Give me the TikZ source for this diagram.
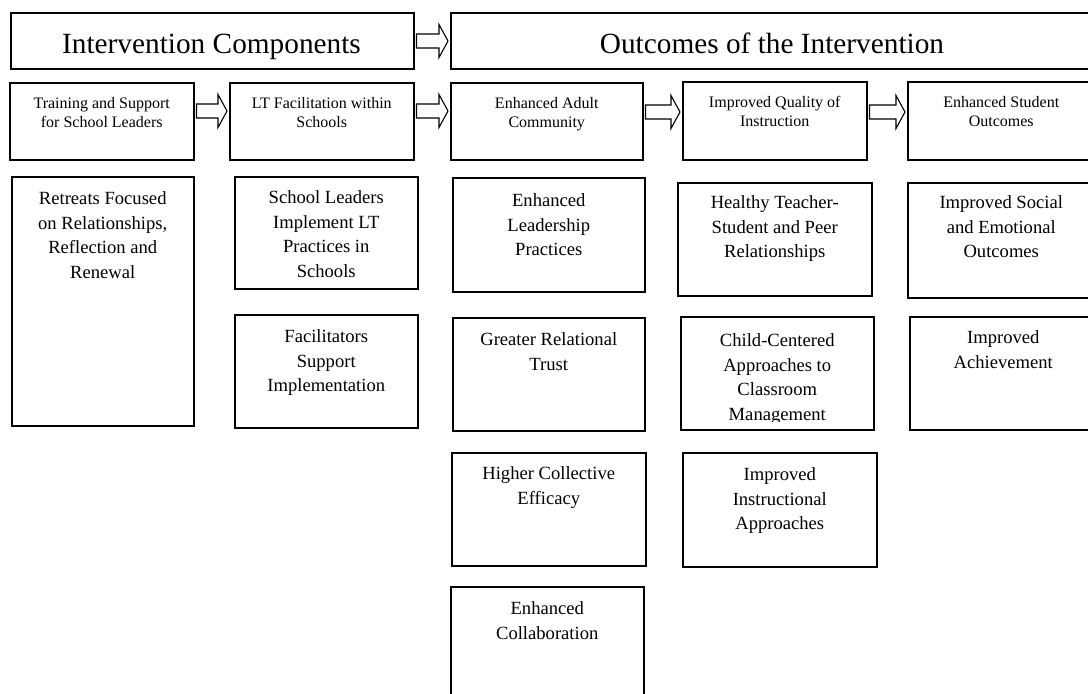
\documentclass[tikz,border=0pt]{standalone}
\usepackage{fontspec}
\setmainfont{Liberation Serif}
\usetikzlibrary{calc}
\tikzset{
  box/.style={draw, line width=1.5pt, inner sep=0pt, anchor=north west},
  txt/.style={inner sep=0pt, align=center, anchor=north},
  ttl/.style={inner sep=0pt, anchor=base, font=\fontsize{29.3}{34}\selectfont},
  arr/.style={draw, line width=1.1pt, fill=white, line join=miter},
}
\newcommand\mkbox[5]{\node[box, minimum width={(#4-#2)*1pt}, minimum height={(#5-#3)*1pt}] (#1) at (#2,#3) {};}
\newcommand\rowtwo[2]{\node[txt, font=\fontsize{16}{19}\selectfont] at ($(#1.north)+(0,14)$) {\rule{0pt}{12pt}#2};}
\newcommand\rowthree[3]{\node[txt, font=\fontsize{18.6}{24.8}\selectfont] at ($(#1.north)+(0,#2-14)$) {\rule{0pt}{14pt}#3};}
\newcommand\barrow[4]{%
  \path (#1.east |- 0,#3) ++(2,0) coordinate (#4s);
  \path (#2.west |- 0,#3) ++(-2,0) coordinate (#4t);
  \draw[arr] ($(#4s)+(0,-7)$) -- ($(#4t)+(-9,-7)$) -- ($(#4t)+(-9,-16.5)$) -- (#4t)
    -- ($(#4t)+(-9,16.5)$) -- ($(#4t)+(-9,7)$) -- ($(#4s)+(0,7)$) -- cycle;}
\begin{document}
\begin{tikzpicture}[x=1pt, y=-1pt]
\useasboundingbox (0,0) rectangle (1088,694);
\clip (0,0) rectangle (1088,694);
% titles
\mkbox{IC}{10}{12}{413}{68}
\mkbox{OC}{450}{12}{1094}{68}
\node[ttl] at (211.5,53) {Intervention Components};
\node[ttl] at (772,53) {Outcomes of the Intervention};
% row two
\mkbox{TS}{9}{82}{193}{159}
\mkbox{LT}{229}{82}{413}{159}
\mkbox{EA}{450}{82}{642}{159}
\mkbox{IQ}{682}{81}{866}{159}
\mkbox{ES}{907}{81}{1094}{159}
\rowtwo{TS}{Training and Support\\for School Leaders}
\rowtwo{LT}{LT Facilitation within\\Schools}
\rowtwo{EA}{Enhanced Adult\\Community}
\rowtwo{IQ}{Improved Quality of\\Instruction}
\rowtwo{ES}{Enhanced Student\\Outcomes}
% row three
\mkbox{RT}{11}{176}{193}{425}
\mkbox{SL}{234}{176}{417}{288}
\mkbox{FS}{234}{314}{417}{427}
\mkbox{EL}{452}{177}{644}{291}
\mkbox{GT}{452}{317}{644}{430}
\mkbox{HC}{451}{452}{645}{565}
\mkbox{EC}{450}{586}{643}{702}
\mkbox{HT}{677}{182}{871}{295}
\mkbox{CC}{680}{316}{873}{429}
\mkbox{II}{682}{452}{876}{566}
\mkbox{IS}{907}{182}{1094}{297}
\mkbox{IA}{909}{316}{1096}{429}
\rowthree{RT}{28}{Retreats Focused\\on Relationships,\\Reflection and\\Renewal}
\rowthree{SL}{27}{School Leaders\\Implement LT\\Practices in\\Schools}
\rowthree{FS}{28}{Facilitators\\Support\\Implementation}
\rowthree{EL}{29}{Enhanced\\Leadership\\Practices}
\rowthree{GT}{28}{Greater Relational\\Trust}
\rowthree{HC}{27}{Higher Collective\\Efficacy}
\rowthree{EC}{28}{Enhanced\\Collaboration}
\rowthree{HT}{26}{Healthy Teacher-\\Student and Peer\\Relationships}
\begin{scope}
\clip (681,317) rectangle (872,421);
\rowthree{CC}{30}{Child-Centered\\Approaches to\\Classroom\\Management}
\end{scope}
\rowthree{II}{28}{Improved\\Instructional\\Approaches}
\rowthree{IS}{26}{Improved Social\\and Emotional\\Outcomes}
\rowthree{IA}{27}{Improved\\Achievement}
% arrows
\barrow{IC}{OC}{41}{a}
\barrow{TS}{LT}{111}{b}
\barrow{LT}{EA}{111}{c}
\barrow{EA}{IQ}{112}{d}
\barrow{IQ}{ES}{112}{e}
\end{tikzpicture}
\end{document}
